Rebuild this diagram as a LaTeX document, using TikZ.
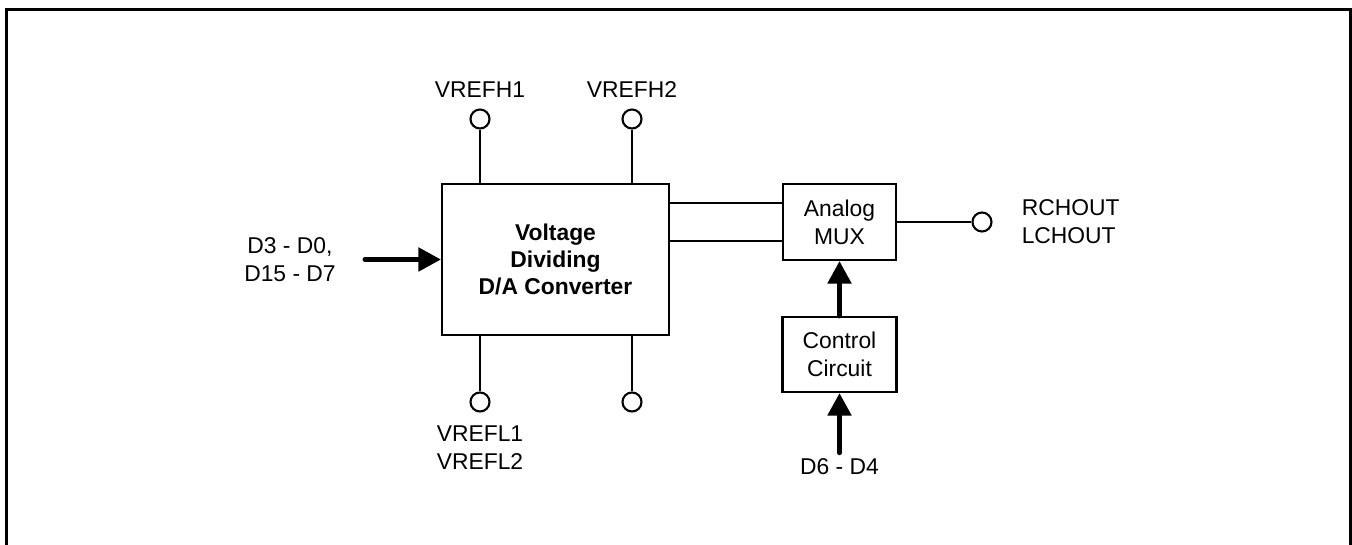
\documentclass[tikz,border=0pt]{standalone}
\usepackage{fontspec}
\setmainfont{Liberation Sans}
\usetikzlibrary{arrows.meta, positioning}
\tikzstyle{block} = [rectangle, draw=black, line width=1.2pt, align=center]
\tikzstyle{pin} = [circle, draw=black, line width=1.2pt, minimum size=3.8mm,
                   inner sep=0pt, fill=white]
\tikzstyle{wire} = [line width=1.2pt]
\tikzstyle{bus} = [-{Triangle[length=4.5mm, width=4.6mm]}, line width=1mm, line cap=round]

\begin{document}
\begin{tikzpicture}[x=0.2mm, y=0.2mm, font=\fontsize{13pt}{16pt}\selectfont]
    \useasboundingbox (0,0) rectangle (1352,545);
    \draw[line width=1.7pt] (6.3,0) -- (6.3,535.5) -- (1350,535.5) -- (1350,0);

    \node[block, minimum width=45.4mm, minimum height=30.2mm,
          font=\fontsize{13pt}{15.5pt}\selectfont\bfseries] (dac) at (555.5,285.5)
          {Voltage\\Dividing\\D/A Converter};
    \node[block, minimum width=22.6mm, minimum height=15.2mm] (mux) at (839.5,323) {Analog\\MUX};
    \node[block, minimum width=22.8mm, minimum height=15mm] (ctrl) at (839.5,190.5) {Control\\Circuit};

    \node[pin] (vh1) at (480,426) {};
    \node[pin] (vh2) at (632,426) {};
    \node[pin] (vl1) at (480,143) {};
    \node[pin] (vl2) at (632,143) {};
    \node[pin] (out) at (982,323) {};

    \node[above=1mm of vh1] (vh1lbl) {VREFH1};
    \node[above=1mm of vh2] (vh2lbl) {VREFH2};
    \node[below=1.4mm of vl1, align=left] (vllbl) {VREFL1\\VREFL2};
    \node[right=4.6mm of out, align=left] (outlbl) {RCHOUT\\LCHOUT};
    \node[align=center] (dinlbl) at (290,285.5) {D3 - D0,\\D15 - D7};
    \coordinate (din) at (365,285.5);
    \node (ctlin) at (839.5,78) {D6 - D4};

    \coordinate (muxa) at ([yshift=3.8mm]mux.west);
    \coordinate (muxb) at ([yshift=-3.8mm]mux.west);

    \draw[wire] (vh1) -- (vh1 |- dac.north);
    \draw[wire] (vh2) -- (vh2 |- dac.north);
    \draw[wire] (vl1) -- (vl1 |- dac.south);
    \draw[wire] (vl2) -- (vl2 |- dac.south);
    \draw[wire] (muxa -| dac.east) -- (muxa);
    \draw[wire] (muxb -| dac.east) -- (muxb);
    \draw[wire] (mux) -- (out);

    \draw[bus] (din) -- (dac.west);
    \draw[bus] (ctrl) -- (mux);
    \draw[bus] (ctlin) -- (ctrl);
\end{tikzpicture}
\end{document}
